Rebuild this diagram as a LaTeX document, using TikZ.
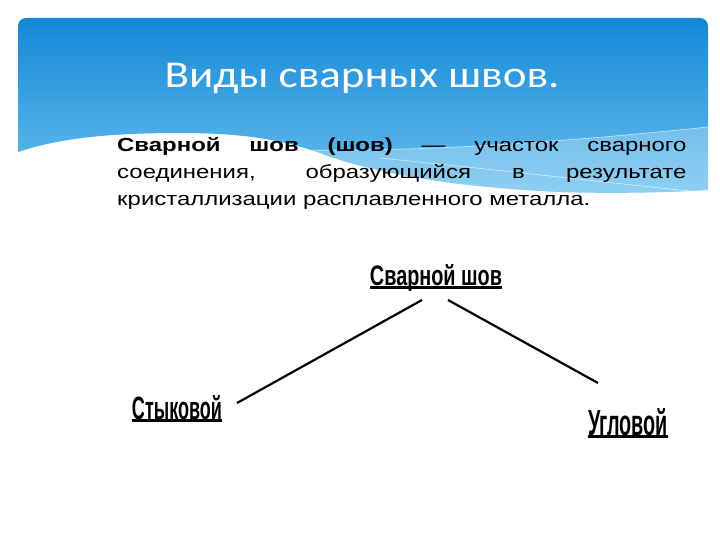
\documentclass[tikz,border=0pt]{standalone}
\usepackage{fontspec}
\setmainfont{Liberation Sans}
\newfontfamily\titlefont{Carlito}
\usepackage{graphicx}
\definecolor{skytop}{RGB}{20,136,214}
\definecolor{skybot}{RGB}{108,194,240}
\tikzset{
  labelbox/.style={inner sep=0pt, text depth=0pt, anchor=base},
  uline/.style={line width=3bp, black},
  conn/.style={line width=2.2bp, black},
  streak/.style={white, opacity=0.6, line width=0.7bp}
}
\begin{document}
\begin{tikzpicture}[x=1bp,y=-1bp]
\useasboundingbox (0,0) rectangle (720,540);
\fill[white] (0,0) rectangle (720,540);
% blue header with wave
\begin{scope}
  \clip (0,0) -- (720,0) -- (720,190) -- (708,190)
    .. controls (680,192) and (620,194) .. (560,192)
    .. controls (470,188) and (380,176) .. (320,153)
    .. controls (280,139) and (240,133) .. (180,133)
    .. controls (110,133) and (60,138) .. (18,152) -- (0,152) -- cycle;
  \shade[rounded corners=8bp, top color=skytop, bottom color=skybot] (18,18) rectangle (708,200);
  \fill[white, opacity=0.25] (300,150) .. controls (450,152) and (600,138) .. (720,126) -- (720,200) -- (300,200) -- cycle;
  \draw[streak] (300,150) .. controls (450,152) and (600,138) .. (708,127);
  \draw[streak] (380,158) .. controls (500,170) and (600,182) .. (690,191);
\end{scope}
% title
\node[font=\titlefont\fontsize{38}{44}\selectfont, text=white, anchor=base] (title) at (362,88) {\scalebox{1.19}[1]{Виды сварных швов.}};
% body text
\node[anchor=north west, inner sep=0pt] (body) at (117,137)
  {\scalebox{1.265}[1]{\parbox[t]{450bp}{\fontsize{19}{27}\selectfont
   \hyphenpenalty=10000\exhyphenpenalty=10000\hbadness=10000
   \rightskip=0pt\leftskip=0pt\parindent=0pt
   \textbf{Сварной шов (шов)} — участок сварного\linebreak соединения, образующийся в результате\linebreak кристаллизации расплавленного металла.}}};
% diagram
\node[labelbox] (root) at (436,286) {\resizebox{132bp}{21bp}{\bfseries Сварной шов}};
\node[labelbox] (butt) at (177,419) {\resizebox{90bp}{24bp}{\bfseries Стыковой}};
\node[labelbox] (corner) at (628,435) {\resizebox{80bp}{27bp}{\bfseries Угловой}};
\draw[uline] ([yshift=-1.8bp]root.base west) -- ([yshift=-1.8bp]root.base east);
\draw[uline] ([yshift=-1.8bp]butt.base west) -- ([yshift=-1.8bp]butt.base east);
\draw[uline] ([yshift=-1.8bp]corner.base west) -- ([yshift=-1.8bp]corner.base east);
\coordinate (rootL) at (422,300);
\coordinate (rootR) at (448,300);
\coordinate (buttE) at (237,403);
\coordinate (cornerE) at (598,383);
\draw[conn] (rootL) -- (buttE);
\draw[conn] (rootR) -- (cornerE);
\end{tikzpicture}
\end{document}
